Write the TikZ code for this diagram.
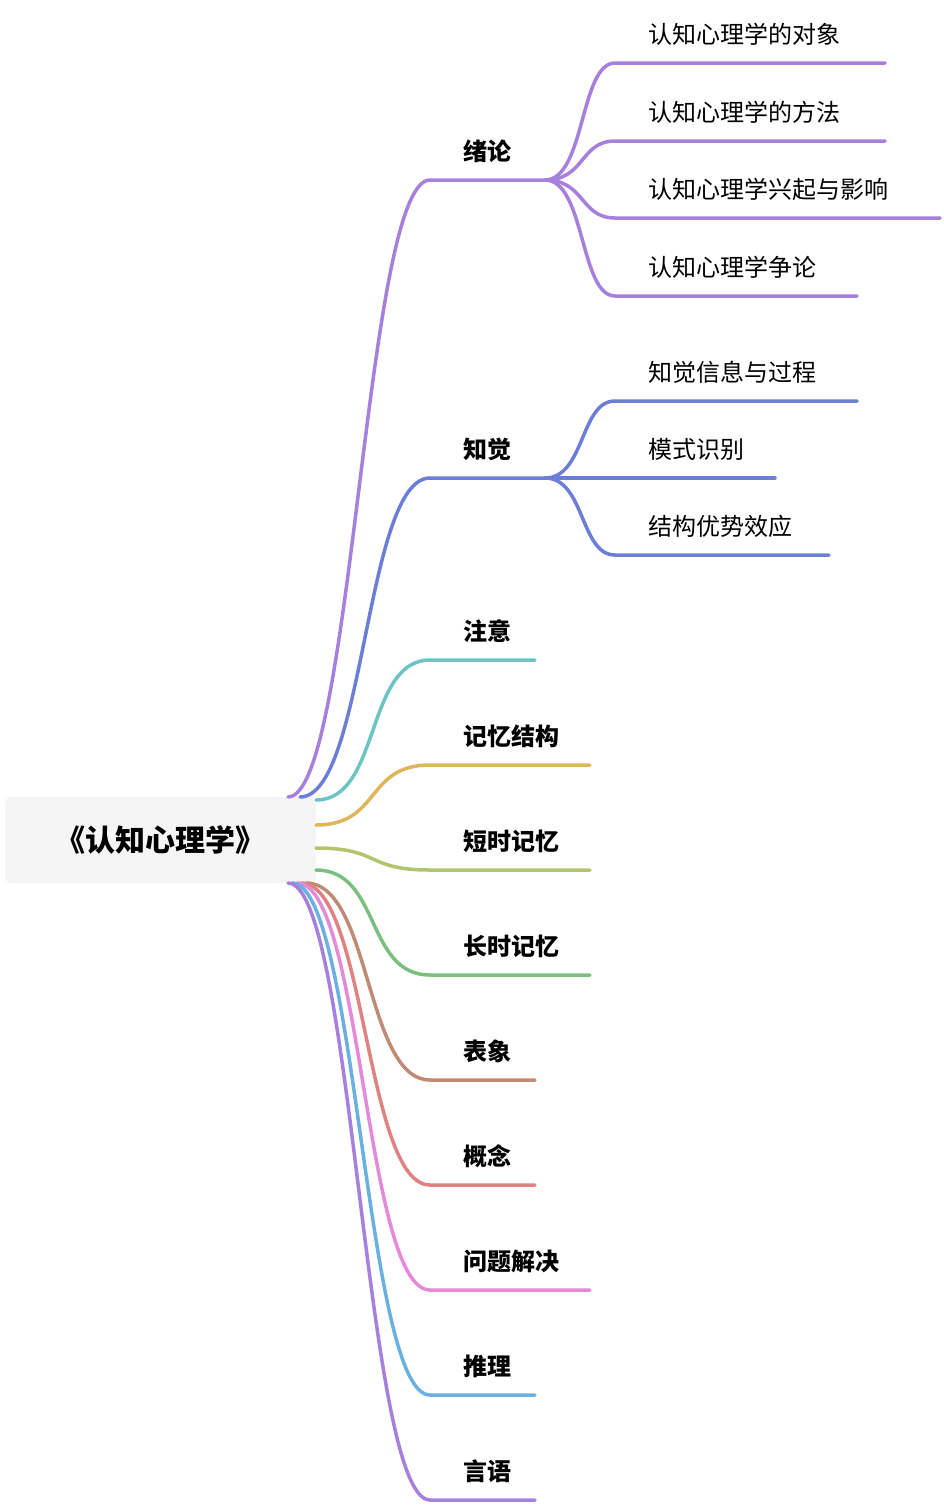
\documentclass[tikz,border=0pt]{standalone}
\usepackage{fontspec}
\setmainfont{Noto Sans CJK SC}
\usepackage{tikz}
\usetikzlibrary{positioning}
\definecolor{cPurple}{HTML}{A77FDD}
\definecolor{cBlue}{HTML}{6C7ED8}
\definecolor{cTeal}{HTML}{6CC4C4}
\definecolor{cGold}{HTML}{DDB75A}
\definecolor{cOlive}{HTML}{B2C46C}
\definecolor{cGreen}{HTML}{79C07E}
\definecolor{cBrown}{HTML}{BF8B74}
\definecolor{cSalmon}{HTML}{E08282}
\definecolor{cPink}{HTML}{E58AD8}
\definecolor{cSky}{HTML}{6BB1E0}
\begin{document}
\begin{tikzpicture}[x=1pt,y=-1pt,
    branch/.style={line width=3.5pt,line cap=round},
    topic/.style={anchor=base west,font=\fontsize{24}{26}\selectfont\bfseries},
    sub/.style={anchor=base west,font=\fontsize{24}{26}\selectfont}]
  \useasboundingbox (0,0) rectangle (944,1508);

  \node[fill=black!4,rounded corners=6pt,minimum width=311pt,minimum height=86pt,
        font=\fontsize{30}{32}\selectfont\bfseries] (root) at (160.5,840) {《认知心理学》};

  % level one
  \node[topic] (xl)   at (460,160)  {绪论};
  \node[topic] (zj)   at (460,458)  {知觉};
  \node[topic] (zy)   at (460,640)  {注意};
  \node[topic] (jyjg) at (460,745)  {记忆结构};
  \node[topic] (dsjy) at (460,850)  {短时记忆};
  \node[topic] (csjy) at (460,955)  {长时记忆};
  \node[topic] (bx)   at (460,1060) {表象};
  \node[topic] (gn)   at (460,1165) {概念};
  \node[topic] (wtjj) at (460,1270) {问题解决};
  \node[topic] (tl)   at (460,1375) {推理};
  \node[topic] (yy)   at (460,1480) {言语};

  % level two
  \node[sub] (dx) at (645,43)  {认知心理学的对象};
  \node[sub] (ff) at (645,121) {认知心理学的方法};
  \node[sub] (xq) at (645,198) {认知心理学兴起与影响};
  \node[sub] (zl) at (645,276) {认知心理学争论};
  \node[sub] (xx) at (645,381) {知觉信息与过程};
  \node[sub] (ms) at (645,458) {模式识别};
  \node[sub] (jg) at (645,535) {结构优势效应};

  % branches from root
  \foreach \c/\sx/\sy/\y/\e/\n in {
      cPurple/288/797/180/545/xl, cBlue/300/797/478/545/zj,
      cTeal/316/800/660/535/zy, cGold/316/825/765/590/jyjg,
      cOlive/316/848/870/590/dsjy, cGreen/316/870/975/590/csjy,
      cBrown/306/883/1080/535/bx, cSalmon/301/883/1185/535/gn,
      cPink/297/883/1290/590/wtjj, cSky/292/883/1395/535/tl,
      cPurple/288/883/1500/535/yy}
    \draw[branch,\c] (\sx,\sy) .. controls (\sx+65,\sy) and (365,\y) .. (430,\y)
                     -- (\e,\y) coordinate (\n-end);

  % sub branches
  \foreach \c/\p/\y/\e in {
      cPurple/xl/63/885, cPurple/xl/141/885, cPurple/xl/218/940, cPurple/xl/296/857,
      cBlue/zj/401/857, cBlue/zj/478/775, cBlue/zj/555/829}
    \draw[branch,\c] (\p-end) .. controls (585,0|-\p-end) and (580,\y) .. (615,\y) -- (\e,\y);
\end{tikzpicture}
\end{document}
